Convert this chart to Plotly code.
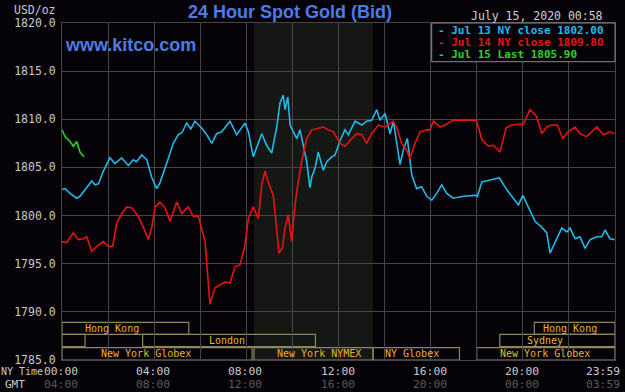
import plotly.graph_objects as go

# ---------------- data ----------------
jul13_hours = [0.00, 0.13, 0.35, 0.64, 0.78, 1.00, 1.29, 1.43, 1.58, 1.79, 2.08, 2.30, 2.59, 2.88, 3.09, 3.24,
               3.46, 3.68, 3.89, 4.11, 4.25, 4.54, 4.83, 5.05, 5.20, 5.41, 5.59, 5.77, 6.06, 6.28, 6.50, 6.71,
               6.93, 7.29, 7.58, 7.94, 8.09, 8.30, 8.45, 8.67, 8.88, 9.10, 9.32, 9.46, 9.60, 9.68, 9.80, 9.90,
               10.04, 10.19, 10.33, 10.47, 10.62, 10.76, 10.84, 10.98, 11.12, 11.34, 11.49, 11.71, 11.85, 12.07,
               12.28, 12.43, 12.72, 13.01, 13.22, 13.44, 13.66, 13.80, 14.02, 14.24, 14.38, 14.53, 14.67, 14.81,
               14.99, 15.10, 15.18, 15.39, 15.61, 15.83, 16.05, 16.26, 16.48, 16.70, 16.98, 17.42, 17.93, 18.03,
               18.22, 18.58, 18.98, 19.30, 19.59, 19.81, 20.00, 20.24, 20.53, 20.82, 21.04, 21.18, 21.32, 21.47,
               21.69, 21.91, 22.05, 22.27, 22.48, 22.70, 22.92, 23.21, 23.42, 23.57, 23.78, 23.98]
jul13_price = [1802.7, 1802.8, 1802.3, 1801.8, 1802.0, 1802.7, 1803.6, 1803.2, 1803.3, 1804.6, 1806.0, 1805.4,
               1806.0, 1805.2, 1805.8, 1805.6, 1806.3, 1805.8, 1804.0, 1802.8, 1803.4, 1805.4, 1807.5, 1808.4,
               1808.6, 1809.6, 1809.0, 1809.8, 1809.1, 1808.4, 1807.5, 1808.5, 1808.7, 1809.8, 1808.4, 1809.6,
               1808.7, 1806.1, 1807.0, 1808.5, 1807.3, 1806.5, 1809.2, 1811.7, 1812.5, 1811.0, 1812.3, 1809.4,
               1808.7, 1808.0, 1808.9, 1807.3, 1805.6, 1802.9, 1804.0, 1804.9, 1806.6, 1804.7, 1805.6, 1806.1,
               1806.3, 1807.8, 1808.9, 1808.4, 1809.8, 1809.4, 1809.8, 1809.9, 1811.0, 1809.9, 1810.6, 1808.5,
               1809.8, 1807.5, 1805.3, 1806.8, 1808.0, 1805.8, 1804.2, 1802.8, 1803.0, 1802.0, 1801.6, 1802.3,
               1803.2, 1802.3, 1801.8, 1802.0, 1802.1, 1802.0, 1803.5, 1803.7, 1803.9, 1802.7, 1801.8, 1801.1,
               1802.1, 1800.9, 1799.4, 1798.8, 1798.2, 1796.1, 1796.8, 1797.5, 1798.7, 1798.3, 1798.7, 1797.6,
               1797.8, 1796.6, 1797.5, 1797.8, 1797.8, 1798.5, 1797.6, 1797.5]

jul14_hours = [0.00, 0.20, 0.49, 0.71, 0.92, 1.07, 1.29, 1.51, 1.79, 2.01, 2.20, 2.37, 2.59, 2.81, 3.03, 3.31,
               3.53, 3.75, 3.89, 4.04, 4.25, 4.47, 4.69, 4.98, 5.20, 5.48, 5.70, 5.92, 6.21, 6.35, 6.42, 6.64,
               6.86, 7.07, 7.29, 7.51, 7.73, 7.94, 8.09, 8.30, 8.52, 8.67, 8.81, 8.95, 9.17, 9.32, 9.42, 9.56,
               9.68, 9.82, 9.97, 10.08, 10.19, 10.40, 10.62, 10.84, 11.12, 11.34, 11.56, 11.78, 12.07, 12.28,
               12.50, 12.79, 13.01, 13.22, 13.44, 13.73, 14.02, 14.38, 14.53, 14.74, 14.96, 15.10, 15.32, 15.54,
               15.83, 15.97, 16.12, 16.41, 16.62, 16.98, 17.93, 18.00, 18.22, 18.50, 18.72, 19.01, 19.27, 19.52,
               20.02, 20.31, 20.60, 20.82, 21.04, 21.25, 21.50, 21.73, 21.97, 22.27, 22.48, 22.77, 23.21, 23.50,
               23.78, 23.98]
jul14_price = [1797.3, 1797.2, 1798.2, 1797.5, 1797.6, 1797.8, 1796.3, 1796.8, 1797.3, 1796.8, 1796.8, 1799.2,
               1800.2, 1800.9, 1800.8, 1799.9, 1798.8, 1797.5, 1798.7, 1800.9, 1801.4, 1800.8, 1799.4, 1801.4,
               1800.2, 1800.9, 1799.9, 1799.9, 1797.3, 1792.8, 1790.8, 1792.5, 1792.8, 1793.1, 1793.0, 1794.7,
               1794.9, 1796.9, 1799.7, 1800.9, 1799.7, 1803.2, 1804.6, 1803.5, 1802.1, 1798.3, 1796.1, 1796.6,
               1798.7, 1800.1, 1797.3, 1800.4, 1802.5, 1805.6, 1808.0, 1808.9, 1809.1, 1809.2, 1808.9, 1808.7,
               1807.5, 1807.2, 1807.8, 1808.5, 1808.4, 1807.5, 1808.5, 1809.4, 1809.2, 1809.8, 1809.1, 1807.5,
               1806.8, 1805.9, 1807.5, 1808.7, 1808.9, 1808.9, 1809.8, 1809.2, 1809.4, 1809.9, 1809.9, 1809.8,
               1807.9, 1807.2, 1807.3, 1806.6, 1809.1, 1809.4, 1809.5, 1811.0, 1810.3, 1808.5, 1809.2, 1809.4,
               1809.4, 1808.0, 1808.7, 1809.2, 1808.5, 1808.2, 1809.2, 1808.4, 1808.7, 1808.5]

jul15_hours = [0.00, 0.13, 0.35, 0.49, 0.64, 0.78, 0.95]
jul15_price = [1808.9, 1808.2, 1807.7, 1807.2, 1807.7, 1806.6, 1806.1]

series_labels = ["Jul 13 NY close", "Jul 14 NY close", "Jul 15 Last"]
series_values = [1802.00, 1809.80, 1805.90]

y_ticks = [1785, 1790, 1795, 1800, 1805, 1810, 1815, 1820]
time_hours = [0, 4, 8, 12, 16, 20, 24]
ny_time_labels = ["00:00", "04:00", "08:00", "12:00", "16:00", "20:00", "23:59"]
gmt_labels = ["04:00", "08:00", "12:00", "16:00", "20:00", "00:00", "03:59"]

# trading sessions: name, row, start hour, end hour, hour where the name is written
session_names = ["Hong Kong", "Hong Kong", "", "London", "Sydney",
                 "New York Globex", "New York NYMEX", "NY Globex", "New York Globex"]
session_rows = [0, 0, 1, 1, 1, 2, 2, 2, 2]
session_start = [0.0, 20.5, 0.0, 3.5, 19.0, 0.0, 8.33, 13.5, 18.0]
session_end = [5.5, 24.0, 1.0, 11.0, 24.0, 8.25, 13.5, 17.25, 24.0]
session_label_hour = [2.15, 22.05, 0.5, 7.18, 20.96, 3.65, 11.15, 15.19, 20.96]
nymex_start, nymex_end = 8.33, 13.5

title_text = "24 Hour Spot Gold (Bid)"
site_text = "www.kitco.com"
date_text = "July 15, 2020 00:58"

# ---------------- styling / layout ----------------
W, H = 625, 392
L, R, T, B = 62, 10, 23, 32
PW, PH = W - L - R, H - T - B
BG = "#050308"
GRID = "#464646"
MONO = "DejaVu Sans Mono"
colors = ["#22b8ea", "#e81212", "#2ed02e"]
BOX = "#8c8760"
SESS_TXT = "#e8b42c"
BLUE = "#4d7ce6"


def pxx(px):
    return (px - L) / PW


def pxy(py):
    return (H - B - py) / PH


fig = go.Figure()
for hrs, prc, col in zip([jul13_hours, jul14_hours, jul15_hours],
                         [jul13_price, jul14_price, jul15_price], colors):
    fig.add_trace(go.Scatter(x=hrs, y=prc, mode="lines", line=dict(color=col, width=1.6),
                             showlegend=False, hoverinfo="skip"))

shapes = []
# NYMEX shaded period
shapes.append(dict(type="rect", xref="x", yref="paper", x0=nymex_start, x1=nymex_end, y0=0, y1=1,
                   fillcolor="#151715", line=dict(width=0), layer="below"))
# session boxes
row_edges = [(pxy(334.3), pxy(322.3)), (pxy(346.7), pxy(334.3)), (pxy(360), pxy(347.7))]
annotations = []
for name, row, s, e, lh in zip(session_names, session_rows, session_start, session_end, session_label_hour):
    y0, y1 = row_edges[row]
    shapes.append(dict(type="rect", xref="x", yref="paper", x0=s, x1=e, y0=y0, y1=y1,
                       line=dict(color=BOX, width=1.2), fillcolor="rgba(0,0,0,0)", layer="between"))
    if name:
        annotations.append(dict(x=lh, y=(y0 + y1) / 2, xref="x", yref="paper", text=name,
                                showarrow=False, font=dict(family=MONO, size=10, color=SESS_TXT),
                                xanchor="center", yanchor="middle", height=11, borderpad=0))

# legend box
shapes.append(dict(type="rect", xref="paper", yref="paper", x0=pxx(431.7), x1=pxx(615), y0=pxy(61.7),
                   y1=pxy(23), fillcolor=BG, line=dict(color="#8a8a8a", width=1), layer="above"))
for i, (lab, val, col) in enumerate(zip(series_labels, series_values, colors)):
    annotations.append(dict(x=pxx(437), y=pxy(29.8 + 12.3 * i), xref="paper", yref="paper",
                            text="<b>- %s %.2f</b>" % (lab, val), showarrow=False,
                            font=dict(family=MONO, size=11, color=col),
                            xanchor="left", yanchor="middle", height=12, borderpad=0))

# x labels (NY time & GMT)
for hr, ny, gm in zip(time_hours, ny_time_labels, gmt_labels):
    anchor = "right" if hr >= 24 else "center"
    shift = 6 if hr >= 24 else -1
    annotations.append(dict(x=hr, y=pxy(370.5), xref="x", yref="paper", text=ny, showarrow=False,
                            xanchor=anchor, yanchor="middle", xshift=shift, height=12, borderpad=0,
                            font=dict(family=MONO, size=11.3, color="#c8c8c8")))
    annotations.append(dict(x=hr, y=pxy(384), xref="x", yref="paper", text=gm, showarrow=False,
                            xanchor=anchor, yanchor="middle", xshift=shift, height=12, borderpad=0,
                            font=dict(family=MONO, size=11.3, color="#5a5a5a")))
annotations.append(dict(x=0, y=pxy(370.5), xref="paper", yref="paper", text="NY Time",
                        showarrow=False, xanchor="left", yanchor="middle", xshift=-L, height=12, borderpad=0,
                        font=dict(family=MONO, size=10, color="#c8c8c8")))
annotations.append(dict(x=pxx(26), y=pxy(384), xref="paper", yref="paper", text="GMT",
                        showarrow=False, xanchor="right", yanchor="middle", height=12, borderpad=0,
                        font=dict(family=MONO, size=11, color="#c8c8c8")))
annotations.append(dict(x=pxx(58), y=pxy(10.5), xref="paper", yref="paper", text="USD/oz",
                        showarrow=False, xanchor="right", yanchor="middle",
                        font=dict(family=MONO, size=11.5, color="#c8c8c8")))
# title, site, date
annotations.append(dict(x=pxx(290), y=pxy(12.5), xref="paper", yref="paper", text="<b>%s</b>" % title_text,
                        showarrow=False, xanchor="center", yanchor="middle",
                        font=dict(family="Liberation Sans", size=18, color=BLUE)))
annotations.append(dict(x=pxx(63), y=pxy(45), xref="paper", yref="paper", text="<b>%s</b>" % site_text,
                        showarrow=False, xanchor="left", yanchor="middle",
                        font=dict(family="Liberation Sans", size=18, color=BLUE)))
annotations.append(dict(x=pxx(605), y=pxy(16), xref="paper", yref="paper", text=date_text,
                        showarrow=False, xanchor="right", yanchor="middle",
                        font=dict(family=MONO, size=11.5, color="#d0d0d0")))

fig.update_layout(
    width=W, height=H, margin=dict(l=L, r=R, t=T, b=B, pad=0),
    paper_bgcolor=BG, plot_bgcolor=BG,
    shapes=shapes, annotations=annotations,
    xaxis=dict(range=[0, 24], dtick=2, tick0=0, showticklabels=False, showgrid=True, gridcolor=GRID,
               gridwidth=1, zeroline=False, showline=True, linecolor=GRID, mirror=True, ticks=""),
    yaxis=dict(range=[1785, 1820], tickvals=y_ticks, ticktext=["%.1f" % v for v in y_ticks],
               showgrid=True, gridcolor=GRID, gridwidth=1, zeroline=False, showline=True, linecolor=GRID,
               mirror=True, ticks="outside", ticklen=3, tickcolor=BG,
               tickfont=dict(family=MONO, size=11.5, color="#c8c8c8")),
    showlegend=False,
)

fig.write_html("out.html", config={"displayModeBar": False, "staticPlot": True},
               post_script="document.body.style.margin='0';document.body.style.background='%s';" % BG)
